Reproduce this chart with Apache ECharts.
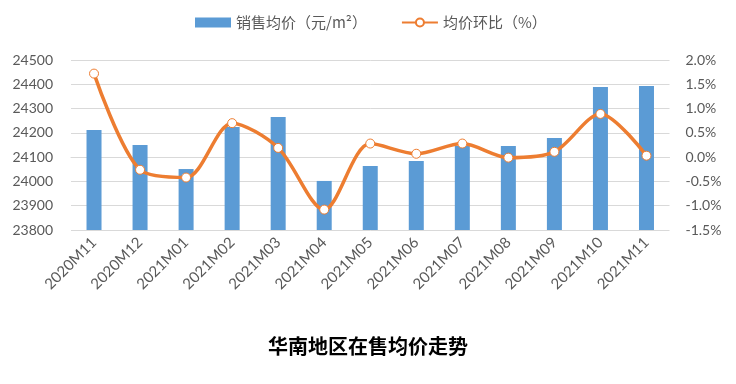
<!DOCTYPE html>
<html><head><meta charset="utf-8">
<script src="https://cdn.jsdelivr.net/npm/echarts@6/dist/echarts.min.js"></script>
<style>html,body{margin:0;padding:0;background:#fff}#c{width:736px;height:384px}</style>
</head><body><div id="c"></div>
<script>
const categories = ['2020M11','2020M12','2021M01','2021M02','2021M03','2021M04','2021M05','2021M06','2021M07','2021M08','2021M09','2021M10','2021M11'];
const avgPrice = [24212,24150,24051,24224,24265,24002,24064,24084,24146,24146,24179,24389,24393];
const momPct = [1.72,-0.26,-0.42,0.70,0.19,-1.08,0.28,0.07,0.28,-0.01,0.11,0.89,0.03];
const leftTicks = [23800,24500,100];
const rightTicks = [-1.5,2.0,0.5];
const barName = '销售均价（元/m²）';
const lineName = '均价环比（%）';
const titleText = '华南地区在售均价走势';

const font = "Lato, 'Noto Sans CJK SC', sans-serif";
const chart = echarts.init(document.getElementById('c'));
chart.setOption({
  animation: false,
  title: { text: titleText, left: 'center', top: 331,
    textStyle: { fontFamily: "'Noto Sans CJK SC', sans-serif", fontSize: 20, fontWeight: 'bold', color: '#000' } },
  legend: { top: 10, left: 190, itemGap: 34, itemWidth: 36, itemHeight: 10,
    textStyle: { fontFamily: "'Noto Sans CJK SC', sans-serif", fontSize: 15, color: '#595959' },
    data: [{ name: barName, icon: 'rect' }, { name: lineName }] },
  grid: { left: 71, right: 66.5, top: 60, bottom: 154 },
  xAxis: { type: 'category', data: categories,
    axisLine: { lineStyle: { color: '#d9d9d9' } }, axisTick: { show: false },
    axisLabel: { rotate: 45, interval: 0, fontFamily: font, fontSize: 15, color: '#595959', margin: 10 } },
  yAxis: [
    { type: 'value', min: leftTicks[0], max: leftTicks[1], interval: leftTicks[2],
      axisLine: { show: false }, axisTick: { show: false },
      splitLine: { lineStyle: { color: '#d9d9d9' } },
      axisLabel: { fontFamily: font, fontSize: 14, color: '#595959', margin: 18, formatter: v => String(v) } },
    { type: 'value', min: rightTicks[0], max: rightTicks[1], interval: rightTicks[2],
      axisLine: { show: false }, axisTick: { show: false }, splitLine: { show: false },
      axisLabel: { fontFamily: font, fontSize: 14, color: '#595959', margin: 16,
        formatter: v => v.toFixed(1) + '%' } }
  ],
  series: [
    { name: barName, type: 'bar', data: avgPrice, barWidth: 15, yAxisIndex: 0,
      itemStyle: { color: '#5B9BD5' } },
    { name: lineName, type: 'line', data: momPct, yAxisIndex: 1, smooth: 0.3,
      symbol: 'circle', symbolSize: 9,
      lineStyle: { color: '#ED7D31', width: 3.5 },
      itemStyle: { color: '#fff', borderColor: '#ED7D31', borderWidth: 1 } }
  ]
});
</script></body></html>
